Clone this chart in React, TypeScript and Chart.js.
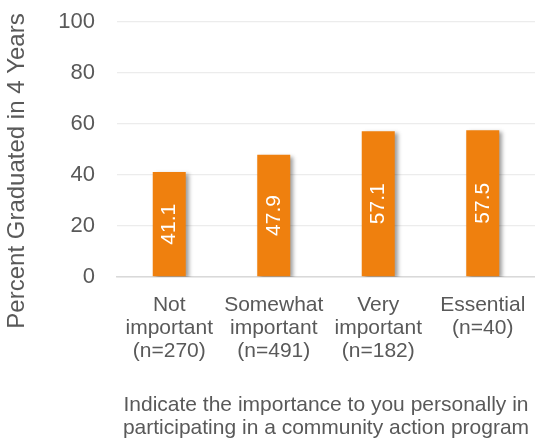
import React, { useEffect, useRef } from 'react';
import { Chart, registerables } from 'chart.js';

Chart.register(...registerables);

const categories: string[][] = [
  ['Not', 'important', '(n=270)'],
  ['Somewhat', 'important', '(n=491)'],
  ['Very', 'important', '(n=182)'],
  ['Essential', '(n=40)'],
];
const values: number[] = [41.1, 47.9, 57.1, 57.5];
const yMin = 0;
const yMax = 100;
const yStep = 20;
const yTitle = 'Percent Graduated in 4 Years';
const xTitle: string[] = [
  'Indicate the importance to you personally in',
  'participating in a community action program',
];

const FONT = '"Liberation Sans", Arial, Helvetica, sans-serif';
const TEXT = '#595959';
const BAR = '#EF800E';

const shadowAndLabels = {
  id: 'shadowAndLabels',
  beforeDatasetsDraw(chart: any) {
    const ctx = chart.ctx;
    ctx.save();
    ctx.shadowColor = 'rgba(0,0,0,0.38)';
    ctx.shadowBlur = 4;
    ctx.shadowOffsetX = 3;
    ctx.shadowOffsetY = 2;
  },
  afterDatasetsDraw(chart: any) {
    const ctx = chart.ctx;
    ctx.restore();
    const meta = chart.getDatasetMeta(0);
    ctx.save();
    ctx.fillStyle = '#FFFFFF';
    ctx.font = `21px ${FONT}`;
    ctx.textAlign = 'center';
    ctx.textBaseline = 'middle';
    meta.data.forEach((el: any, i: number) => {
      const { x, y, base } = el.getProps(['x', 'y', 'base'], true);
      ctx.save();
      ctx.translate(x, (y + base) / 2);
      ctx.rotate(-Math.PI / 2);
      ctx.fillText(values[i].toFixed(1), 0, 0);
      ctx.restore();
    });
    ctx.restore();
  },
};

const yTitlePlugin = {
  id: 'yTitlePlugin',
  afterDraw(chart: any) {
    const ctx = chart.ctx;
    ctx.save();
    ctx.fillStyle = TEXT;
    ctx.font = `24px ${FONT}`;
    ctx.textAlign = 'center';
    ctx.textBaseline = 'middle';
    ctx.translate(17, 171);
    ctx.rotate(-Math.PI / 2);
    ctx.fillText(yTitle, 0, 0);
    ctx.restore();
  },
};

export default function App() {
  const ref = useRef<HTMLCanvasElement>(null);

  useEffect(() => {
    if (!ref.current) return;
    const chart = new Chart(ref.current, {
      type: 'bar',
      data: {
        labels: categories,
        datasets: [
          {
            data: values,
            backgroundColor: BAR,
            borderWidth: 0,
            categoryPercentage: 1,
            barPercentage: 0.316,
          },
        ],
      },
      options: {
        responsive: false,
        animation: false,
        layout: { padding: { top: 21.7, left: 0, right: 0, bottom: 0 } },
        plugins: {
          legend: { display: false },
          tooltip: { enabled: false },
          title: { display: false },
        },
        scales: {
          x: {
            grid: { display: false, drawTicks: true, tickLength: 16.5 },
            border: { display: true, color: '#D9D9D9', width: 1.5 },
            ticks: {
              color: TEXT,
              font: { family: FONT, size: 21, lineHeight: 1.1 },
              padding: 0,
              maxRotation: 0,
              autoSkip: false,
            },
            title: {
              display: true,
              text: xTitle,
              color: TEXT,
              font: { family: FONT, size: 21, lineHeight: 1.1 },
              padding: { top: 0, bottom: 5 },
            },
            afterFit(scale: any) {
              scale.height = 168;
            },
          },
          y: {
            min: yMin,
            max: yMax,
            grid: {
              color: '#ECECEC',
              lineWidth: 1.3,
              drawTicks: true,
              tickLength: 22,
              tickColor: 'rgba(0,0,0,0)',
            },
            border: { display: false },
            ticks: {
              stepSize: yStep,
              color: TEXT,
              font: { family: FONT, size: 22 },
              padding: 0,
            },
            afterFit(scale: any) {
              scale.width = 117;
            },
          },
        },
      },
      plugins: [shadowAndLabels, yTitlePlugin],
    });
    return () => chart.destroy();
  }, []);

  return (
    <div style={{ position: 'absolute', left: 0, top: 0, width: 535, height: 445 }}>
      <canvas ref={ref} width={535} height={445} style={{ display: 'block' }} />
    </div>
  );
}
